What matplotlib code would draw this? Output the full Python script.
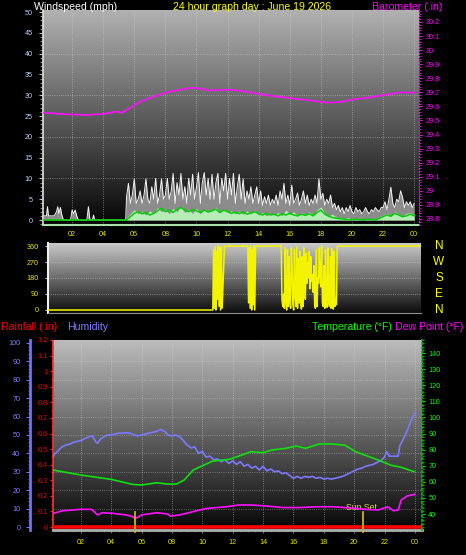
import numpy as np
import matplotlib
matplotlib.use('Agg')
import matplotlib.pyplot as plt
from matplotlib.colors import LinearSegmentedColormap
from matplotlib.ticker import MultipleLocator, FixedLocator

plt.rcParams['font.family'] = ['Liberation Sans', 'DejaVu Sans']

# ---------------- data ----------------
hour_ticks = [2, 4, 6, 8, 10, 12, 14, 16, 18, 20, 22, 24]
hour_labels = ['02', '04', '06', '08', '10', '12', '14', '16', '18', '20', '22', '00']

# Barometer (in)
t_baro = [0.15, 1.65, 2.9, 3.95, 4.85, 5.2, 5.7, 6.4, 7.2, 8.1, 9.0, 9.7, 10.3, 10.9, 11.6,
          12.35, 13.2, 14.1, 15.0, 15.8, 16.5, 17.1, 17.8, 18.4, 19.2, 20.1, 21.0, 21.8, 22.5, 23.1, 24.0]
baro = [29.555, 29.544, 29.539, 29.546, 29.563, 29.555, 29.587, 29.635, 29.668, 29.700, 29.720, 29.733,
        29.725, 29.712, 29.718, 29.717, 29.705, 29.686, 29.672, 29.662, 29.652, 29.646, 29.635, 29.627,
        29.630, 29.650, 29.662, 29.676, 29.688, 29.700, 29.697]

# Wind gust (mph) before 05:30
t_gust_early = [0.13, 0.35, 0.42, 0.48, 0.6, 0.85, 1.0, 1.08, 1.15, 1.25, 1.35, 1.45, 1.9, 2.0, 2.1,
                2.2, 2.3, 2.4, 2.95, 3.05, 3.15, 3.3, 3.38, 3.45, 5.45]
gust_early = [1.0, 1.0, 3.2, 1.0, 1.0, 1.0, 2.0, 3.2, 1.5, 3.0, 1.0, 0, 0, 2.4, 1.5,
              2.4, 1.0, 0, 0, 3.2, 0, 0, 1.2, 0, 0]
# Wind gust (mph) every 7.5 min from 05:30
gust_main = [5.5, 8.8, 4, 6,
             9.9, 4, 5, 7, 4, 6, 9.9, 5,
             4, 8, 5, 10, 4, 6, 9.9, 5,
             6, 10, 5, 7, 11.2, 4, 9, 6,
             11.2, 5, 8, 4, 10, 6, 11, 5,
             8, 11.4, 4, 9, 11.4, 6, 10, 5,
             11, 5, 9, 11.2, 4, 10, 7, 11.2,
             5, 10, 6, 11.2, 4, 8, 11, 5,
             9.9, 4, 7, 5, 8, 4, 6, 8,
             4, 7, 3.5, 5.6, 4, 6, 3.5, 5,
             4, 6, 3.5, 7, 5, 8.8, 4, 6,
             3.5, 8.4, 4, 5, 6.5, 3.5, 5, 7,
             4, 6, 3.5, 5, 4, 6, 4, 9.9,
             5, 6.4, 3.5, 5, 4, 6, 3, 4,
             2.5, 3.5, 2, 3, 1.5, 3, 2, 3.5,
             2, 1.5, 3, 2, 2.5, 1.5, 2, 3,
             2, 1.5, 2.5, 2, 3, 2.4, 2, 3,
             3, 4.4, 2.5, 5, 7.9, 4, 3, 5,
             4.4, 7, 5.5, 3, 4.4, 3.5, 4.4, 3,
             4]

# Average wind (mph) every 15 min from 05:30
avg_wind = [0.5, 1.5, 2.5, 1.5, 2.0, 1.2, 2.2, 1.5, 3.0, 2.0, 2.5, 1.5, 2.8, 2.0, 3.2, 1.8,
            2.5, 1.6, 2.8, 1.5, 2.6, 2.0, 2.4, 3.0, 1.8, 2.6, 1.8, 2.2, 1.5, 2.0, 1.4, 2.2,
            1.5, 2.4, 1.2, 1.8, 1.0, 1.6, 1.2, 1.8, 1.0, 2.4, 1.4, 2.0, 1.0, 1.8, 1.2, 2.0,
            1.0, 2.4, 3.2, 1.6, 1.0, 1.4, 0.6, 0.5, 0.3, 0.6, 0.2, 0.4, 0.2, 0.1, 0.4, 0.2,
            0.1, 0.8, 1.2, 1.6, 1.0, 2.0, 1.4, 1.0, 1.6, 1.8, 1.2]
# 10-minute average wind line (mph) every 15 min from 05:30
wind_line = [0.0, 0.8, 1.6, 2.0, 1.5, 1.8, 1.2, 1.6, 2.2, 2.9, 2.0, 2.4, 1.8, 2.6, 3.0, 2.4,
             2.0, 2.5, 2.2, 1.8, 2.4, 1.9, 2.2, 2.6, 1.8, 2.4, 2.0, 1.6, 1.9, 1.5, 2.0, 1.4,
             1.7, 2.0, 1.5, 1.2, 1.6, 1.2, 1.4, 1.0, 1.5, 1.2, 1.6, 1.2, 1.0, 1.4, 1.1, 1.5,
             1.0, 1.8, 2.4, 1.4, 0.9, 0.6, 0.4, 0.3, 0.2, 0.1, 0.1, 0.2, 0.1, 0.0, 0.2, 0.1,
             0.0, 0.4, 0.8, 1.2, 0.9, 1.6, 1.2, 0.8, 1.0, 1.4, 1.0]

# Wind direction (degrees)
t_dir = [0.45, 11.05, 11.1, 11.15, 11.2, 11.25, 11.3, 11.35, 11.4, 11.45, 11.5, 11.55, 11.6, 11.65, 11.8,
         13.3, 13.35, 13.4, 13.45, 13.5, 13.55, 13.6, 13.65, 13.7, 13.75, 13.8, 13.9,
         15.45, 15.5, 15.55, 15.6, 15.65, 15.7, 15.75, 15.8, 15.85, 15.9, 15.95, 16.0, 16.05, 16.1,
         16.15, 16.2, 16.25, 16.3, 16.35, 16.4, 16.45, 16.5, 16.55, 16.6, 16.65, 16.7, 16.75, 16.8,
         16.85, 16.9, 16.95, 17.0, 17.05, 17.1, 17.15, 17.2, 17.25, 17.3, 17.35, 17.4, 17.45, 17.5,
         17.55, 17.6, 17.65, 17.7, 17.75, 17.8, 17.85, 17.9, 17.95, 18.0, 18.05, 18.1, 18.15, 18.2,
         18.25, 18.3, 18.35, 18.4, 18.45, 18.5, 18.55, 18.6, 18.65, 18.7, 18.75, 18.8, 18.85, 18.9,
         18.95, 19.0, 19.05, 19.1, 24.44]
wind_dir = [0, 0, 340, 10, 355, 0, 330, 60, 360, 20, 350, 0, 360, 10, 360,
            360, 40, 350, 10, 360, 0, 340, 30, 360, 0, 360, 360,
            360, 60, 20, 90, 10, 350, 40, 0, 340, 20, 300, 60, 10, 350,
            250, 30, 0, 340, 80, 20, 355, 10, 290, 40, 330, 60, 5, 300,
            20, 350, 220, 60, 320, 150, 270, 180, 330, 120, 300, 160, 200, 100,
            250, 30, 10, 340, 20, 180, 150, 350, 200, 130, 360, 40, 20, 250,
            10, 340, 30, 15, 350, 60, 20, 300, 10, 345, 40, 5, 330, 20,
            60, 30, 350, 360, 360]
dir_ticks = [0, 90, 180, 270, 360]
dir_letters = ['N', 'E', 'S', 'W', 'N']

# Humidity (%)
t_hum = [0.15, 0.25, 0.5, 0.75, 1.0, 1.25, 1.5, 1.75, 2.0, 2.25, 2.5, 2.75, 3.0, 3.1, 3.25, 3.5, 3.75,
         4.0, 4.25, 4.5, 4.75, 5.0, 5.25, 5.5, 5.75, 6.0, 6.25, 6.5, 6.75, 7.0, 7.25, 7.5, 7.75,
         8.0, 8.25, 8.5, 8.75, 9.0, 9.25, 9.5, 9.75, 10.0, 10.25, 10.5, 10.75, 11.0, 11.25, 11.5,
         11.75, 12.0, 12.25, 12.5, 12.75, 13.0, 13.25, 13.5, 13.75, 14.0, 14.25, 14.5, 14.75, 15.0,
         15.25, 15.5, 15.75, 16.0, 16.25, 16.5, 16.75, 17.0, 17.25, 17.5, 17.75, 18.0, 18.25, 18.5,
         18.75, 19.0, 19.25, 19.5, 19.75, 20.0, 20.25, 20.5, 20.75, 21.0, 21.25, 21.5, 21.75, 22.0,
         22.15, 22.3, 22.5, 22.75, 22.9, 23.0, 23.25, 23.5, 23.75, 24.0]
humidity = [38, 39.5, 41.5, 43.5, 44.5, 45, 46, 46.5, 47, 48, 49, 49.5, 46, 45.5, 47.5, 49, 50,
            50, 50.5, 51, 51, 51.2, 51, 50, 49.5, 50, 50.5, 51, 51.5, 52, 53, 52, 50,
            49.5, 50, 49, 47, 44.5, 43, 43.5, 40, 41, 38, 38.5, 36.5, 37, 35.5, 36.5,
            34.5, 36, 34, 35.5, 33, 34, 32, 33, 31, 33, 30.5, 31.5, 30, 30.5,
            29, 29.5, 28, 26.5, 27.5, 26.5, 27.5, 27, 27.5, 26.5, 27, 26, 26.5, 26,
            26.5, 27, 27.5, 28.5, 29.5, 30.5, 31.5, 32, 33, 33.5, 34, 35, 36, 38,
            41, 38.5, 38.5, 38.5, 38.5, 44, 48, 52.5, 58, 62]

# Temperature (F)
t_temp = [0.18, 2.0, 4.0, 5.4, 6.0, 7.0, 7.7, 8.3, 8.8, 9.4, 10.1, 10.7, 11.8, 12.4, 13.2, 14.0,
          14.6, 15.5, 16.2, 16.8, 17.7, 18.6, 19.4, 20.1, 20.7, 21.6, 22.4, 23.1, 23.95]
temperature = [67.3, 64.2, 61.5, 58.4, 58.0, 59.4, 58.6, 58.6, 61.1, 67.3, 70.4, 72.9, 74.0, 76.0,
               78.7, 78.1, 79.8, 80.8, 82.2, 80.8, 83.5, 83.5, 82.7, 78.7, 76.6, 73.5, 70.4, 69.0, 66.3]

# Dew point (F)
t_dew = [0.18, 0.8, 2.0, 2.7, 3.1, 3.4, 4.1, 5.0, 5.4, 5.6, 6.0, 7.0, 7.7, 7.9, 8.5, 9.4, 10.3,
         11.6, 12.4, 13.2, 14.2, 15.3, 16.4, 17.5, 18.6, 19.7, 20.7, 21.6, 22.2, 22.6, 22.9, 23.1,
         23.5, 24.0]
dew_point = [40.4, 42.0, 42.9, 42.9, 39.4, 40.8, 40.4, 39.4, 38.3, 37.3, 39.4, 40.8, 40.0, 38.7,
             39.4, 41.5, 43.5, 44.5, 45.6, 45.6, 45.0, 44.0, 44.0, 44.5, 44.5, 43.8, 42.9, 42.5,
             44.5, 42.0, 42.5, 48.7, 51.2, 52.2]

# Rainfall (in)
t_rain = [0.16, 24.47]
rainfall = [0.0, 0.0]

sun_times = [5.56, 20.56]

rain_ticks = [0, 0.1, 0.2, 0.3, 0.4, 0.5, 0.6, 0.7, 0.8, 0.9, 1.0, 1.1, 1.2]
rain_labels = ['0', '0.1', '0.2', '0.3', '0.4', '0.5', '0.6', '0.7', '0.8', '0.9', '1', '1.1', '1.2']
baro_ticks = [28.8, 28.9, 29.0, 29.1, 29.2, 29.3, 29.4, 29.5, 29.6, 29.7, 29.8, 29.9, 30.0, 30.1, 30.2]
baro_labels = ['28.8', '28.9', '29', '29.1', '29.2', '29.3', '29.4', '29.5', '29.6', '29.7',
               '29.8', '29.9', '30', '30.1', '30.2']

# ---------------- figure ----------------
W, H = 466, 555
fig = plt.figure(figsize=(W / 100, H / 100), dpi=100, facecolor='black')
PT = 0.72  # points per pixel


def rect(x0, y0, x1, y1):
    return [x0 / W, 1 - y1 / H, (x1 - x0) / W, (y1 - y0) / H]


def gradient(ax, top, bottom):
    cmap = LinearSegmentedColormap.from_list('g', [bottom, top])
    grad = np.linspace(0, 1, 256).reshape(-1, 1)
    ax.imshow(grad, cmap=cmap, aspect='auto', extent=[0, 1, 0, 1],
              transform=ax.transAxes, origin='lower', zorder=0, interpolation='bilinear')


def ftext(x, y, s, **kw):
    fig.text(x / W, 1 - y / H, s, **kw)


YEL = '#e8e800'
TICKFS = 5.2

# ---------- top panel: wind speed + barometer ----------
ax1 = fig.add_axes(rect(43, 10, 419, 225))
ax1.set_facecolor('black')
gradient(ax1, '#b2b2b2', '#050505')
t_main = np.arange(5.5, 24.001, 0.125)
t_q = np.arange(5.5, 24.001, 0.25)
t_g_all = list(t_gust_early) + list(t_main)
g_all = list(gust_early) + list(gust_main)
ax1.fill_between(t_g_all, 0, g_all, color='#8c8c8c', lw=0, zorder=2)
ax1.plot(t_g_all, g_all, color='#f4f4f4', lw=0.7, zorder=3)
ax1.fill_between(t_q, 0, avg_wind, color='#b6ecb6', lw=0, zorder=4)
ax1.plot([0.13] + list(t_q), [0] + list(wind_line), color='#00d000', lw=1.1, zorder=5)
ax1.set_xlim(0.13, 24.31)
ax1.set_ylim(-1.2, 50.5)
ax1.yaxis.set_major_locator(MultipleLocator(5))
ax1.yaxis.set_minor_locator(MultipleLocator(1))
ax1.xaxis.set_major_locator(FixedLocator(hour_ticks))
ax1.set_xticklabels(hour_labels)
ax1.tick_params(axis='x', colors=YEL, labelsize=TICKFS, length=0, pad=4)
ax1.tick_params(axis='y', which='major', colors='#c0c0c0', labelcolor='#b8d4ff', labelsize=TICKFS,
                length=3, pad=4.5, width=0.8)
ax1.tick_params(axis='y', which='minor', colors='#a0a0a0', length=2, width=0.6)
for sp in ['top', 'right']:
    ax1.spines[sp].set_visible(False)
ax1.spines['left'].set_color('#e0e0e0')
ax1.spines['left'].set_linewidth(1.2)
ax1.spines['bottom'].set_color('#a8e0a8')
ax1.spines['bottom'].set_linewidth(1.5)
for xv in hour_ticks:
    ax1.axvline(xv, color='#d8d8d8', lw=0.6, ls=':', alpha=0.6, zorder=1)
for yv in [10, 20, 30, 40]:
    ax1.axhline(yv, color='#d8d8d8', lw=0.6, ls=':', alpha=0.6, zorder=1)

ax1b = ax1.twinx()
ax1b.plot(t_baro, baro, color='#ff10ff', lw=1.2)
ax1b.set_ylim(28.757, 30.285)
ax1b.yaxis.set_major_locator(FixedLocator(baro_ticks))
ax1b.set_yticklabels(baro_labels)
ax1b.yaxis.set_minor_locator(MultipleLocator(0.02))
ax1b.tick_params(axis='y', which='major', colors='#ff00ff', labelcolor='#ff00ff', labelsize=TICKFS,
                 length=2.5, pad=2.5, width=0.8)
ax1b.tick_params(axis='y', which='minor', colors='#ff00ff', length=1.2, width=0.6)
for sp in ['top', 'left', 'bottom']:
    ax1b.spines[sp].set_visible(False)
ax1b.spines['right'].set_color('#ff00ff')
ax1b.spines['right'].set_linestyle(':')

# ---------- middle panel: wind direction ----------
ax2 = fig.add_axes(rect(48, 243, 421, 313))
ax2.set_facecolor('black')
gradient(ax2, '#cacaca', '#0c0c0c')
ax2.plot(t_dir, wind_dir, color='#f4f400', lw=1.1, zorder=3)
ax2.set_xlim(0.45, 24.44)
ax2.set_ylim(-16.9, 376.9)
ax2.set_yticks(dir_ticks)
ax2.set_xticks([])
ax2.tick_params(axis='y', colors='#c0c0c0', labelcolor=YEL, labelsize=TICKFS, length=2.5, pad=4, width=0.8)
for yv in [90, 180, 270]:
    ax2.axhline(yv, color='#d8d8d8', lw=0.6, ls=':', alpha=0.6, zorder=1)
for sp in ['top', 'right']:
    ax2.spines[sp].set_visible(False)
ax2.spines['left'].set_color('#f0f0f0')
ax2.spines['left'].set_linewidth(1.5)
ax2.spines['bottom'].set_color('#909090')
for dv, lt in zip(dir_ticks, dir_letters):
    ax2.text((439 - 48) / (421 - 48), dv, lt, transform=ax2.get_yaxis_transform(), color='#ffff00',
             fontsize=8.5, ha='center', va='center')

# ---------- bottom panel: rain, humidity, temperature, dew point ----------
ax3 = fig.add_axes(rect(53, 340, 422, 530))
ax3.set_facecolor('black')
gradient(ax3, '#bcbcbc', '#060606')
ax3.set_xlim(0.16, 24.47)
ax3.set_ylim(-0.019, 1.196)
ax3.set_yticks(rain_ticks)
ax3.set_yticklabels(rain_labels)
ax3.yaxis.set_minor_locator(MultipleLocator(0.05))
ax3.tick_params(axis='y', which='major', colors='#ff2020', labelcolor='#e80000', labelsize=TICKFS,
                length=2.5, pad=1.5, width=0.8)
ax3.tick_params(axis='y', which='minor', colors='#ff2020', length=1.2)
ax3.xaxis.set_major_locator(FixedLocator(hour_ticks))
ax3.set_xticklabels(hour_labels)
ax3.xaxis.set_minor_locator(MultipleLocator(0.5))
ax3.tick_params(axis='x', which='major', colors='#707070', labelcolor=YEL, labelsize=TICKFS, length=2.5, pad=4)
ax3.tick_params(axis='x', which='minor', colors='#505050', length=1.5)
for sp in ['top', 'right']:
    ax3.spines[sp].set_visible(False)
ax3.spines['left'].set_color('#ff3030')
ax3.spines['left'].set_linestyle((0, (2, 1)))
ax3.spines['left'].set_linewidth(1.2)
ax3.spines['bottom'].set_color('#b0b0b0')
ax3.spines['bottom'].set_linewidth(2)
for xv in hour_ticks:
    ax3.axvline(xv, color='#d8d8d8', lw=0.6, ls=':', alpha=0.6, zorder=1)
ax3.plot(t_rain, rainfall, color='#ff0000', lw=2.6, zorder=6, solid_capstyle='butt')

ax3h = ax3.twinx()
ax3h.set_ylim(-1.62, 101.6)
ax3h.yaxis.set_ticks_position('left')
ax3h.yaxis.set_label_position('left')
ax3h.spines['left'].set_visible(True)
ax3h.spines['left'].set_position(('outward', 23 * PT))
ax3h.spines['left'].set_color('#7070ff')
ax3h.spines['left'].set_linewidth(2)
for sp in ['top', 'right', 'bottom']:
    ax3h.spines[sp].set_visible(False)
ax3h.yaxis.set_major_locator(MultipleLocator(10))
ax3h.yaxis.set_minor_locator(MultipleLocator(2))
ax3h.tick_params(axis='y', which='major', colors='#7070ff', labelcolor='#8080ff', labelsize=TICKFS,
                 length=3, pad=4, width=0.8)
ax3h.tick_params(axis='y', which='minor', colors='#7070ff', length=1.5)
for yv in range(10, 100, 10):
    ax3h.axhline(yv, color='#d8d8d8', lw=0.6, ls=':', alpha=0.5, zorder=1)
ax3h.plot(t_hum, humidity, color='#7a7aff', lw=1.2, zorder=3)

ax3t = ax3.twinx()
ax3t.set_ylim(30.06, 148.1)
ax3t.set_yticks(range(40, 141, 10))
ax3t.yaxis.set_minor_locator(MultipleLocator(2))
ax3t.tick_params(axis='y', which='major', colors='#00d000', labelcolor='#00ff00', labelsize=TICKFS,
                 length=2.5, pad=2, width=0.8)
ax3t.tick_params(axis='y', which='minor', colors='#00d000', length=1.2)
for sp in ['top', 'left', 'bottom']:
    ax3t.spines[sp].set_visible(False)
ax3t.spines['right'].set_color('#00c000')
ax3t.spines['right'].set_linestyle(':')
ax3t.spines['right'].set_linewidth(1.2)
ax3t.plot(t_temp, temperature, color='#10e010', lw=1.2, zorder=3)
ax3t.plot(t_dew, dew_point, color='#ff10ff', lw=1.2, zorder=4)
for st in sun_times:
    ax3t.plot([st, st], [41.5, 29.0], color='#c8b420', lw=1.3, clip_on=False, zorder=5)
ax3t.text(20.45, 44.3, 'Sun Set', color='#dcd040', fontsize=6.3, ha='center', va='center')

# ---------- titles / legends ----------
TFS = 7.6
ftext(34, 10, 'Windspeed (mph)', color='white', fontsize=TFS, va='baseline')
ftext(252, 10, '24 hour graph day : June 19 2026', color='#ffff00', fontsize=TFS, va='baseline', ha='center')
ftext(372, 10, 'Barometer (.in)', color='#ff00ff', fontsize=TFS, va='baseline')
ftext(1, 330, 'Rainfall (.in)', color='#ff0000', fontsize=TFS, va='baseline')
ftext(67, 330, 'Humidity', color='#8080ff', fontsize=TFS, va='baseline')
ftext(392, 330, 'Temperature (\u00b0F)', color='#00ff00', fontsize=TFS, va='baseline', ha='right')
ftext(463, 330, 'Dew Point (\u00b0F)', color='#ff00ff', fontsize=TFS, va='baseline', ha='right')

fig.savefig('out.png', dpi=100, facecolor='black')
